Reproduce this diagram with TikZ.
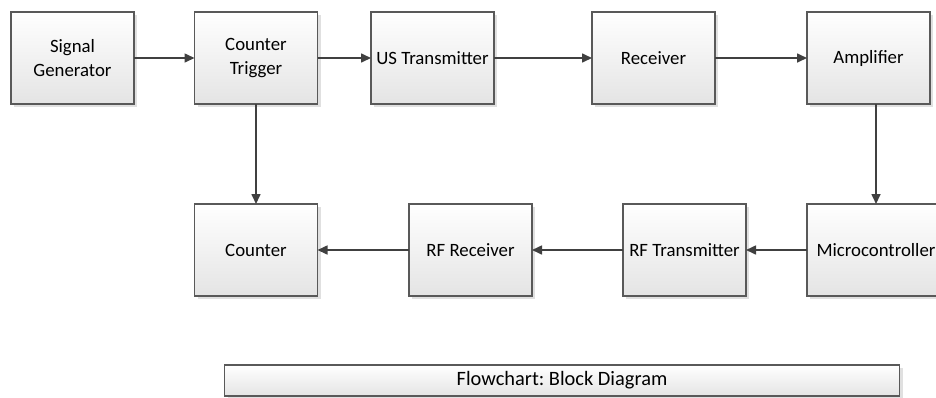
\documentclass[tikz,border=0pt]{standalone}
\usepackage{fontspec}
\setmainfont{Carlito}
\frenchspacing
\usetikzlibrary{arrows.meta,shadows}
\definecolor{edgec}{HTML}{595959}
\definecolor{arrc}{HTML}{404040}
\definecolor{shadec}{HTML}{E4E4E4}
\tikzset{
  blk/.style={draw=edgec, line width=1.4pt, top color=white, bottom color=shadec,
    minimum width=123pt, minimum height=92pt, inner sep=0pt, outer sep=0pt,
    align=center, font=\fontsize{18.8}{24}\selectfont,
    drop shadow={shadow xshift=3pt, shadow yshift=-3pt, fill=black, opacity=0.12}},
  conn/.style={draw=arrc, line width=1.6pt, -{Triangle[length=10pt,width=9pt]}}
}
\begin{document}
\begin{tikzpicture}[x=1pt,y=-1pt]
\useasboundingbox (0,0) rectangle (936,397);
\begin{scope}
\clip (0,0) rectangle (936,397);
\node[blk] (sg) at (72.5,58) {Signal\\Generator};
\node[blk] (ct) at (256,58) {Counter\\Trigger};
\node[blk] (ust) at (432.5,58) {US Transmitter};
\node[blk] (rx) at (653.5,58) {Receiver};
\node[blk] (amp) at (868.5,58) {Amplifier};
\node[blk] (cnt) at (256,250) {Counter};
\node[blk] (rfr) at (470.5,250) {RF Receiver};
\node[blk] (rft) at (684.5,250) {RF Transmitter};
\node[blk, minimum width=138pt] (mc) at (876,250) {Microcontroller};
\node[blk, minimum width=675pt, minimum height=31pt, font=\fontsize{20.4}{24}\selectfont] (fc) at (562,380.5) {Flowchart: Block Diagram};
\end{scope}
\draw[conn] (sg) -- (ct);
\draw[conn] (ct) -- (ust);
\draw[conn] (ust) -- (rx);
\draw[conn] (rx) -- (amp);
\draw[conn] (amp.south -| mc.north) -- (mc.north);
\draw[conn] (ct) -- (cnt);
\draw[conn] (mc) -- (rft);
\draw[conn] (rft) -- (rfr);
\draw[conn] (rfr) -- (cnt);
\end{tikzpicture}
\end{document}
